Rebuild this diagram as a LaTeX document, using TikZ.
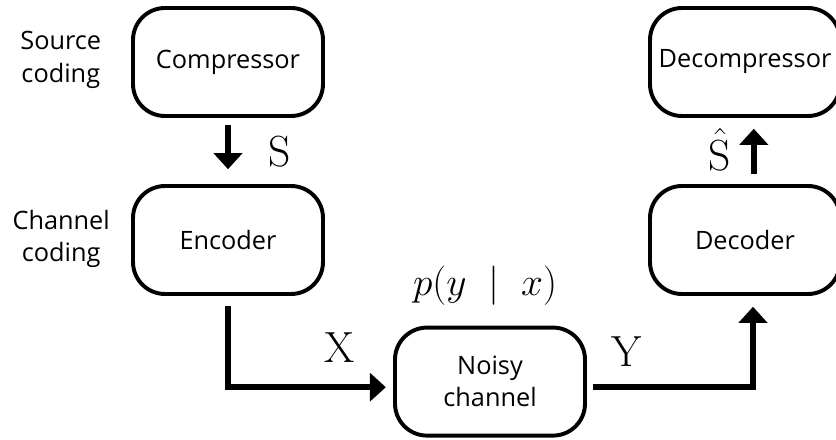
\RequirePackage{fix-cm}
\documentclass[tikz,border=0pt]{standalone}
\usepackage{fontspec}
\setsansfont{Open Sans}
\usetikzlibrary{arrows.meta}

\begin{document}
\begin{tikzpicture}[
        block/.style={draw, line width=2.8pt, rounded corners=0.8cm, minimum width=4.75cm, minimum height=2.7cm, align=center, font=\sffamily\fontsize{18}{23}\selectfont},
        side/.style={align=center, font=\sffamily\fontsize{18}{23}\selectfont},
        sig/.style={inner sep=1pt, font=\fontsize{31}{31}\selectfont},
        flow/.style={line width=4.2pt, -{Triangle[width=0.7cm,length=0.4cm]}}
    ]
            \useasboundingbox (0,0) rectangle (20.9,-11);
            \clip (0,0) rectangle (20.9,-11);

            \node[block] (comp) at (5.7, -1.55) {Compressor};
            \node[block] (enc) at (5.7, -6.0) {Encoder};
            \node[block] (noisy) at (12.25, -9.54) {Noisy\\channel};
            \node[block] (dec) at (18.625, -6.0) {Decoder};
            \node[block] (decomp) at (18.625, -1.55) {Decompressor};

            \node[side] (src) at (1.52, -1.5) {Source\\coding};
            \node[side] (chn) at (1.53, -5.98) {Channel\\coding};

            \node[sig] (s) at (7.0, -3.8) {$\mathrm{S}$};
            \node[sig] (x) at (8.5, -8.7) {$\mathrm{X}$};
            \node[sig] (y) at (15.675, -8.78) {$\mathrm{Y}$};
            \node[sig] (shat) at (18.0, -3.75) {$\hat{\mathrm{S}}$};
            \node[sig, font=\fontsize{28}{28}\selectfont] (pyx) at (12.125, -7.15) {$p(y \;\mid\; x)$};

            \draw[flow, shorten <=0.17cm, shorten >=0.37cm] (comp) -- (enc);
            \draw[flow, shorten <=0.25cm, shorten >=0.18cm] (enc.south) |- ([yshift=-0.14cm]noisy.west);
            \draw[flow, shorten <=0.15cm, shorten >=0.27cm] ([yshift=-0.14cm]noisy.east) -| ([xshift=0.2cm]dec.south);
            \draw[flow, shorten <=0.25cm, shorten >=0.27cm] ([xshift=0.22cm]dec.north) -- ([xshift=0.22cm]decomp.south);
        \end{tikzpicture}
\end{document}
